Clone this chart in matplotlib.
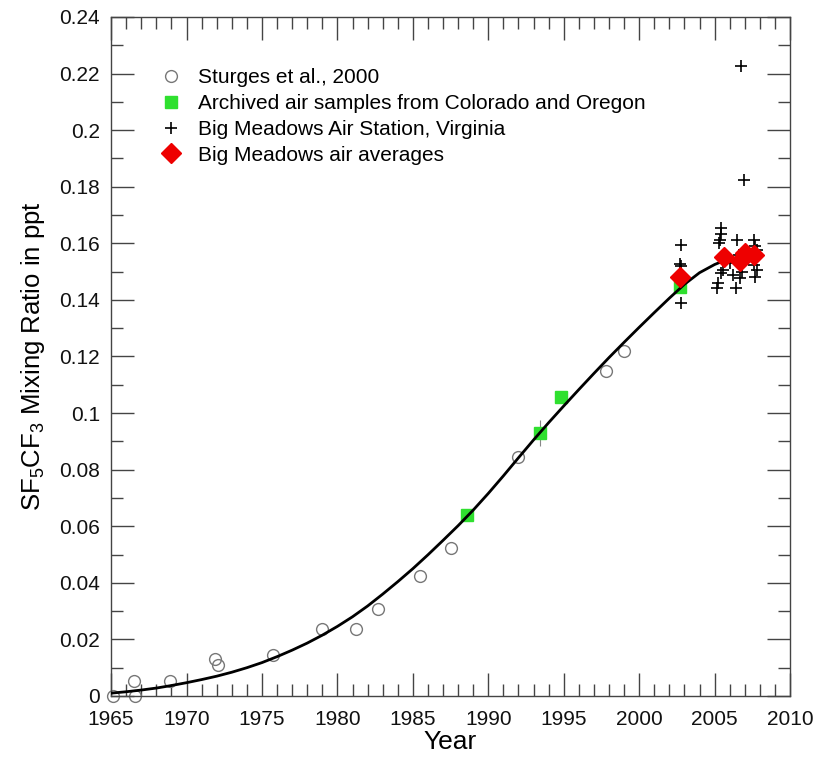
import numpy as np
import matplotlib.pyplot as plt

plt.rcParams['font.family'] = ['Liberation Sans', 'DejaVu Sans']
plt.rcParams['mathtext.default'] = 'regular'

# Sturges et al. (2000) firn air
sturges_year = [1965.1, 1966.5, 1966.6, 1968.9, 1971.9, 1972.1, 1975.7, 1979.0,
                1981.2, 1982.7, 1985.5, 1987.5, 1992.0, 1997.8, 1999.0]
sturges_ppt = [0.0, 0.0053, 0.0, 0.0053, 0.0131, 0.0110, 0.0145, 0.0237,
               0.0237, 0.0307, 0.0424, 0.0523, 0.0845, 0.1150, 0.1220]

# archived air, Colorado / Oregon
arch_year = [1988.6, 1993.45, 1994.8, 2002.7]
arch_ppt = [0.0640, 0.0929, 0.1058, 0.1444]
arch_err = [0.0, 0.0047, 0.0, 0.0]

# Big Meadows individual samples
bm_year = [2002.75, 2002.7, 2002.8, 2002.75,
           2005.45, 2005.4, 2005.35, 2005.3, 2005.55, 2005.45, 2005.2, 2005.15, 2005.6,
           2006.0, 2006.5, 2006.45, 2006.25, 2006.7, 2006.8, 2006.75, 2006.95, 2006.6,
           2007.6, 2007.7, 2007.8, 2007.6, 2007.7, 2007.8, 2007.65]
bm_ppt = [0.1594, 0.1526, 0.1520, 0.1390,
          0.1655, 0.1633, 0.1612, 0.1600, 0.1506, 0.1494, 0.1459, 0.1441, 0.1560,
          0.1530, 0.1612, 0.1441, 0.1488, 0.1476, 0.1500, 0.2226, 0.1824, 0.1560,
          0.1610, 0.1590, 0.1577, 0.1523, 0.1482, 0.1506, 0.1545]

# Big Meadows averages
avg_year = [2002.7, 2005.6, 2006.7, 2007.0, 2007.6]
avg_ppt = [0.1482, 0.1552, 0.1537, 0.1565, 0.1557]

# fitted growth curve, yearly
fit_year = [1965, 1966, 1967, 1968, 1969, 1970, 1971, 1972, 1973, 1974, 1975,
            1976, 1977, 1978, 1979, 1980, 1981, 1982, 1983, 1984, 1985, 1986,
            1987, 1988, 1989, 1990, 1991, 1992, 1993, 1994, 1995, 1996, 1997,
            1998, 1999, 2000, 2001, 2002, 2003, 2004, 2005, 2005.6]
fit_ppt = [0.0010, 0.0015, 0.0021, 0.0028, 0.0037, 0.0047, 0.0058, 0.0070,
           0.0084, 0.0100, 0.0118, 0.0139, 0.0162, 0.0187, 0.0215, 0.0246,
           0.0280, 0.0318, 0.0360, 0.0404, 0.0450, 0.0499, 0.0550, 0.0602,
           0.0657, 0.0716, 0.0778, 0.0842, 0.0905, 0.0966, 0.1025, 0.1083,
           0.1140, 0.1196, 0.1250, 0.1303, 0.1355, 0.1406, 0.1455, 0.1496,
           0.1525, 0.1538]

fig = plt.figure(figsize=(8.17, 7.57), dpi=100)
ax = fig.add_axes([0.136, 0.0806, 0.831, 0.897])

ax.plot(sturges_year, sturges_ppt, 'o', ms=8.5, mfc='none', mec='#777777', mew=1.0,
        ls='none', label='Sturges et al., 2000', zorder=2, clip_on=False)
ax.plot(bm_year, bm_ppt, '+', ms=9, mew=1.2, color='black', ls='none',
        label='Big Meadows Air Station, Virginia', zorder=3)
# error bars first, squares on top
ax.errorbar(arch_year, arch_ppt, yerr=arch_err, fmt='none',
            ecolor='#888888', elinewidth=0.8, capsize=0, zorder=3.5)
ax.plot(arch_year, arch_ppt, 's', ms=9, mfc='#2fe02f', mec='#2fe02f', ls='none',
        label='Archived air samples from Colorado and Oregon', zorder=4)
ax.plot(fit_year, fit_ppt, '-', color='black', lw=2.0, zorder=5,
        solid_joinstyle='round')
ax.plot(avg_year, avg_ppt, 'D', ms=10, mfc='#ee0000', mec='#ee0000', ls='none',
        label='Big Meadows air averages', zorder=6)

ax.set_xlim(1965, 2010)
ax.set_ylim(0, 0.24)
ax.set_xticks(np.arange(1965, 2011, 5))
ax.set_xticks(np.arange(1965, 2011, 1), minor=True)
ax.set_yticks(np.arange(0, 0.241, 0.02))
ax.set_yticks(np.arange(0, 0.241, 0.01), minor=True)
ax.set_yticklabels(['0', '0.02', '0.04', '0.06', '0.08', '0.1', '0.12', '0.14',
                    '0.16', '0.18', '0.2', '0.22', '0.24'])

ax.tick_params(which='both', direction='in', top=True, right=True,
               color='#444444', width=1.0, labelsize=15, labelcolor='#111111')
ax.tick_params(which='major', length=16.5)
ax.tick_params(which='minor', length=8.5)
ax.tick_params(axis='y', which='major', pad=8)
ax.tick_params(axis='x', which='major', pad=10)
for sp in ax.spines.values():
    sp.set_color('#444444')
    sp.set_linewidth(1.0)

ax.set_xlabel('Year', fontsize=19, labelpad=1)
ax.set_ylabel('SF$_5$CF$_3$ Mixing Ratio in ppt', fontsize=18.5, labelpad=9)

handles, labels = ax.get_legend_handles_labels()
order = [labels.index(s) for s in ['Sturges et al., 2000',
                                   'Archived air samples from Colorado and Oregon',
                                   'Big Meadows Air Station, Virginia',
                                   'Big Meadows air averages']]
ax.legend([handles[i] for i in order], [labels[i] for i in order],
          loc='upper left', bbox_to_anchor=(0.06, 0.937), frameon=False,
          fontsize=15, handlelength=1.0, handletextpad=0.8, labelspacing=0.33,
          borderaxespad=0)

fig.savefig('out.png', dpi=100)
